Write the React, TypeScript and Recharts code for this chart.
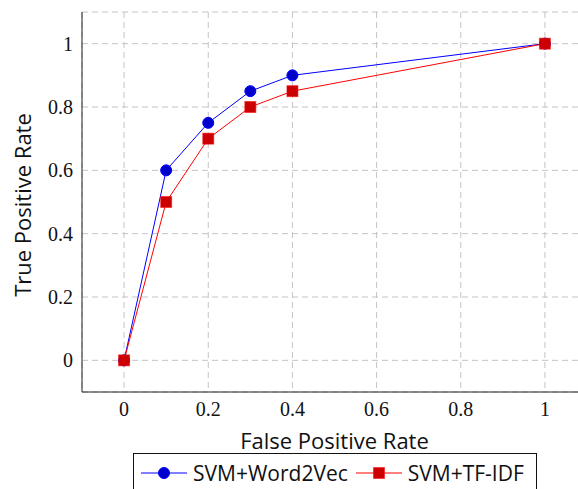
import { LineChart, Line, XAxis, YAxis, CartesianGrid } from 'recharts';

const FPR = [0, 0.1, 0.2, 0.3, 0.4, 1];
const TPR_W2V = [0, 0.6, 0.75, 0.85, 0.9, 1];
const TPR_TFIDF = [0, 0.5, 0.7, 0.8, 0.85, 1];
const TICKS = [0, 0.2, 0.4, 0.6, 0.8, 1];
const SERIES = [
  { key: 'w2v', name: 'SVM+Word2Vec', stroke: '#0000ff', fill: '#0000cc', mark: 'circle' },
  { key: 'tfidf', name: 'SVM+TF-IDF', stroke: '#ff0000', fill: '#cc0000', mark: 'square' },
];

const data = FPR.map((fpr, i) => ({ fpr, w2v: TPR_W2V[i], tfidf: TPR_TFIDF[i] }));

const SERIF = "'Liberation Serif', 'DejaVu Serif', 'Times New Roman', serif";
const SANS = 'Open Sans';
const DOMAIN = [-0.1, 1.1];
const fmt = (v: number) => String(Math.round(v * 10) / 10);
const tickText = { fontFamily: SERIF, fontSize: 20, fill: '#111' };
const markLine = { stroke: '#333' };

function CircleDot({ cx, cy, stroke, fill }: any) {
  if (cx == null || cy == null) return null;
  return <circle cx={cx} cy={cy} r={5.5} fill={fill} stroke={stroke} strokeWidth={1} />;
}

function SquareDot({ cx, cy, stroke, fill }: any) {
  if (cx == null || cy == null) return null;
  return <rect x={cx - 5.5} y={cy - 5.5} width={11} height={11} fill={fill} stroke={stroke} strokeOpacity={0.5} strokeWidth={1} />;
}

function LegendIcon({ s }: any) {
  return (
    <svg width={46} height={20} style={{ display: 'block' }}>
      <line x1={0} x2={46} y1={10} y2={10} stroke={s.stroke} strokeWidth={1} />
      {s.mark === 'circle' ? (
        <circle cx={23} cy={10} r={5.5} fill={s.fill} stroke={s.stroke} />
      ) : (
        <rect x={17.5} y={4.5} width={11} height={11} fill={s.fill} stroke={s.stroke} strokeOpacity={0.5} />
      )}
    </svg>
  );
}

export default function App() {
  return (
    <div style={{ position: 'fixed', left: 0, top: 0, width: 578, height: 489, overflow: 'hidden', background: '#fff' }}>
      <LineChart width={620} height={500} data={data} margin={{ top: 12, right: 33, bottom: 48, left: 22 }}>
        <CartesianGrid stroke="#c4c4c4" strokeDasharray="6 4" />
        <XAxis
          dataKey="fpr"
          type="number"
          domain={DOMAIN}
          ticks={TICKS}
          allowDataOverflow
          height={60}
          tickSize={0}
          tickMargin={10}
          tickLine={false}
          tickFormatter={fmt}
          axisLine={{ stroke: '#222' }}
          tick={tickText}
          label={{ value: 'False Positive Rate', position: 'insideTop', offset: 41, fontFamily: SANS, fontSize: 22, fill: '#111' }}
        />
        {/* inward tick marks, bottom and top */}
        <XAxis xAxisId="bt" type="number" domain={DOMAIN} ticks={TICKS} allowDataOverflow mirror height={0}
          axisLine={false} tick={false} tickSize={6} tickLine={markLine} />
        <XAxis xAxisId="tp" orientation="top" type="number" domain={DOMAIN} ticks={TICKS} allowDataOverflow mirror height={0}
          axisLine={{ stroke: '#222' }} tick={false} tickSize={6} tickLine={markLine} />
        <YAxis
          type="number"
          domain={DOMAIN}
          ticks={TICKS}
          allowDataOverflow
          width={60}
          tickSize={0}
          tickMargin={9}
          tickLine={false}
          tickFormatter={fmt}
          axisLine={{ stroke: '#222' }}
          tick={tickText}
          label={{ value: 'True Positive Rate', angle: -90, position: 'insideLeft', offset: 1.5, dy: 3, fontFamily: SANS, fontSize: 22, fill: '#111', style: { textAnchor: 'middle' } }}
        />
        <YAxis yAxisId="lt" type="number" domain={DOMAIN} ticks={TICKS} allowDataOverflow mirror width={0}
          axisLine={false} tick={false} tickSize={6} tickLine={markLine} />
        {SERIES.map((s) => (
          <Line
            key={s.key}
            dataKey={s.key}
            name={s.name}
            type="linear"
            stroke={s.stroke}
            strokeWidth={1}
            fill={s.fill}
            dot={s.mark === 'circle' ? <CircleDot fill={s.fill} /> : <SquareDot fill={s.fill} />}
            activeDot={false}
            isAnimationActive={false}
          />
        ))}
      </LineChart>
      <div
        style={{
          position: 'absolute', left: 133, top: 453, width: 404, height: 50,
          border: '1px solid #111', display: 'flex', alignItems: 'flex-start',
          paddingTop: 8, paddingLeft: 7, boxSizing: 'border-box',
          fontFamily: SANS, fontSize: 21, color: '#111',
        }}
      >
        {SERIES.map((s, i) => (
          <div key={s.key} style={{ display: 'flex', alignItems: 'center', marginLeft: i ? 8 : 0, lineHeight: '22px' }}>
            <LegendIcon s={s} />
            <span style={{ marginLeft: 6 }}>{s.name}</span>
          </div>
        ))}
      </div>
    </div>
  );
}
